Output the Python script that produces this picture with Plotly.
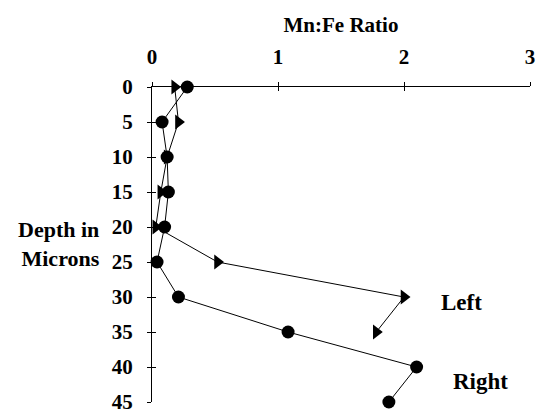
import plotly.graph_objects as go

depth = [0, 5, 10, 15, 20, 25, 30, 35, 40, 45]
left_ratio = [0.18, 0.21, 0.12, 0.07, 0.03, 0.52, 2.0, 1.78]
left_depth = [0, 5, 10, 15, 20, 25, 30, 35]
right_ratio = [0.28, 0.08, 0.12, 0.13, 0.10, 0.04, 0.21, 1.08, 2.1, 1.88]
x_ticks = [0, 1, 2, 3]
y_ticks = [0, 5, 10, 15, 20, 25, 30, 35, 40, 45]

FONT = "Liberation Serif"

def bold(size):
    return dict(family=FONT, size=size, color="black", weight="bold")

fig = go.Figure()
fig.add_trace(go.Scatter(
    x=left_ratio, y=left_depth, mode="lines+markers", name="Left",
    line=dict(color="black", width=1),
    marker=dict(symbol="triangle-right", size=13, color="black"),
    cliponaxis=False,
))
fig.add_trace(go.Scatter(
    x=right_ratio, y=depth, mode="lines+markers", name="Right",
    line=dict(color="black", width=1),
    marker=dict(symbol="circle", size=13, color="black"),
    cliponaxis=False,
))

fig.update_layout(
    width=546, height=413,
    margin=dict(l=152, r=16, t=87, b=11),
    paper_bgcolor="white", plot_bgcolor="white",
    showlegend=False,
    xaxis=dict(
        side="top", range=[0, 3], tickvals=x_ticks, ticks="outside", ticklen=4,
        tickcolor="black", showline=True, linecolor="black", linewidth=1,
        showgrid=False, zeroline=False, tickfont=bold(21), ticklabelstandoff=10,
        ticklabeloverflow="allow", automargin=False,
        title=dict(text="Mn:Fe Ratio", font=bold(21), standoff=6),
    ),
    xaxis2=dict(
        overlaying="x", matches="x", side="top", range=[0, 3], tickvals=x_ticks,
        ticks="inside", ticklen=4, tickcolor="black", showticklabels=False,
        showgrid=False, zeroline=False, showline=False, automargin=False,
    ),
    yaxis=dict(
        range=[45, 0], tickvals=y_ticks, ticks="outside", ticklen=4,
        tickcolor="black", showline=True, linecolor="black", linewidth=1,
        showgrid=False, zeroline=False, tickfont=bold(21), ticklabelstandoff=10,
        ticklabeloverflow="allow", automargin=False,
    ),
    yaxis2=dict(
        overlaying="y", matches="y", range=[45, 0], tickvals=y_ticks,
        ticks="inside", ticklen=4, tickcolor="black", showticklabels=False,
        showgrid=False, zeroline=False, showline=False, automargin=False,
    ),
)
# invisible trace to activate the overlay axes (inside tick marks)
fig.add_trace(go.Scatter(x=[None], y=[None], xaxis="x2", yaxis="y2",
                         showlegend=False, hoverinfo="skip"))

fig.add_annotation(text="Depth in<br>Microns", xref="paper", yref="y",
                   x=-0.132, y=22.4, xanchor="right", yanchor="middle", showarrow=False,
                   align="right", font=bold(22))
fig.add_annotation(text="Left", xref="x", yref="y", x=2.28, y=30.8,
                   xanchor="left", showarrow=False, font=bold(23))
fig.add_annotation(text="Right", xref="x", yref="y", x=2.37, y=42.0,
                   xanchor="left", showarrow=False, font=bold(23))

fig.write_html("out.html")
